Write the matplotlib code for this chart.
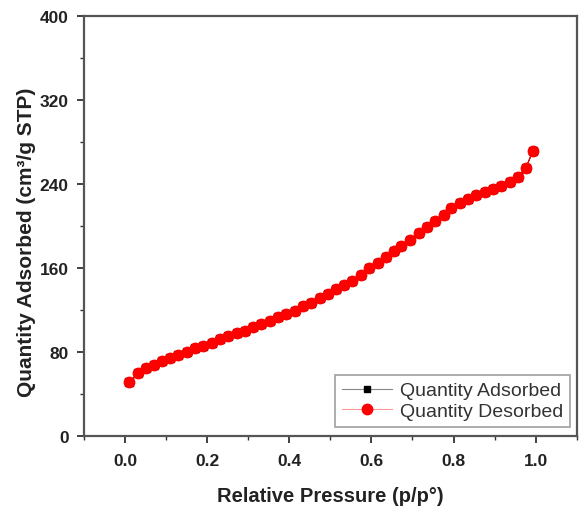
import matplotlib
matplotlib.use("Agg")
import matplotlib.pyplot as plt
from matplotlib.ticker import MultipleLocator

plt.rcParams['font.family'] = ['Liberation Sans', 'DejaVu Sans']

pressure = [0.010, 0.032, 0.052, 0.070, 0.090, 0.110, 0.130, 0.151, 0.171, 0.191,
            0.211, 0.231, 0.252, 0.272, 0.292, 0.312, 0.332, 0.353, 0.373, 0.393,
            0.413, 0.433, 0.453, 0.474, 0.494, 0.514, 0.534, 0.554, 0.574, 0.595,
            0.615, 0.635, 0.655, 0.673, 0.695, 0.717, 0.736, 0.755, 0.777, 0.795,
            0.816, 0.835, 0.855, 0.876, 0.896, 0.915, 0.937, 0.956, 0.976, 0.993]
adsorbed = [51, 60, 65, 68, 71, 74, 77, 80, 83.5, 86,
            89, 92, 95, 98, 100, 103.5, 107, 110, 113, 116,
            119, 124, 127, 131, 135, 140, 144, 148, 153, 160,
            165, 170, 176, 181, 187, 193, 199, 205, 210, 217,
            222, 226, 229, 232, 235, 238, 242, 247, 255, 271]
desorbed = [51, 60, 65, 68, 71, 74, 77, 80, 83.5, 86,
            89, 92, 95, 98, 100, 103.5, 107, 110, 113, 116,
            119, 124, 127, 131, 135, 140, 144, 148, 153, 160,
            165, 170, 176, 181, 187, 193, 199, 205, 210, 217,
            222, 226, 229, 232, 235, 238, 242, 247, 255, 271]

fig = plt.figure(figsize=(5.79, 5.10), dpi=100)
ax = fig.add_axes([0.145, 0.143, 0.851, 0.824])

ax.plot(pressure, adsorbed, color='black', marker='s', markersize=6,
        linewidth=0.8, label='Quantity Adsorbed')
ax.plot(pressure, desorbed, color='red', marker='o', markersize=7.5,
        linewidth=0.8, label='Quantity Desorbed')

ax.set_xlim(-0.1, 1.1)
ax.set_ylim(0, 400)
ax.xaxis.set_major_locator(MultipleLocator(0.2))
ax.xaxis.set_minor_locator(MultipleLocator(0.1))
ax.yaxis.set_major_locator(MultipleLocator(80))
ax.yaxis.set_minor_locator(MultipleLocator(40))
ax.set_xticks([0.0, 0.2, 0.4, 0.6, 0.8, 1.0])
ax.set_xticklabels(['0.0', '0.2', '0.4', '0.6', '0.8', '1.0'])

ax.tick_params(which='major', direction='out', length=5, width=1.3, colors='#333333',
               labelsize=12.5)
ax.tick_params(axis='x', which='major', pad=7)
ax.tick_params(axis='y', which='major', pad=6)
ax.tick_params(which='minor', direction='out', length=3, width=1.0, colors='#333333')
for lbl in ax.get_xticklabels() + ax.get_yticklabels():
    lbl.set_fontweight('bold')
    lbl.set_color('#222222')

for s in ax.spines.values():
    s.set_linewidth(1.6)
    s.set_color('#555555')

ax.set_xlabel('Relative Pressure (p/p°)', fontsize=14.5, fontweight='bold',
              color='#222222', labelpad=13)
ax.set_ylabel('Quantity Adsorbed (cm³/g STP)', fontsize=15,
              fontweight='bold', color='#222222')
ax.yaxis.set_label_coords(-0.098, 0.464)

leg = ax.legend(loc='lower right', bbox_to_anchor=(0.987, 0.022), fontsize=14,
                frameon=True, fancybox=False, edgecolor='#888888', borderaxespad=0,
                handlelength=2.6, labelspacing=0.15, borderpad=0.35,
                handletextpad=0.4)
leg.get_frame().set_linewidth(1.2)
for t in leg.get_texts():
    t.set_color('#333333')
h = leg.legend_handles
h[0].set_color('#888888'); h[0].set_markerfacecolor('black'); h[0].set_markeredgecolor('black')
h[0].set_markersize(5)
h[1].set_color('#ff9999'); h[1].set_markerfacecolor('red'); h[1].set_markeredgecolor('red')

fig.savefig('out.png', dpi=100)
